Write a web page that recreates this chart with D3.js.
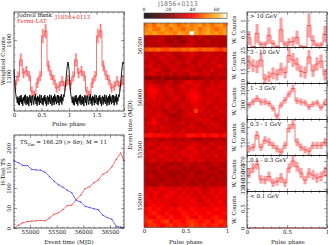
<!DOCTYPE html>
<html>
<head>
<meta charset="utf-8">
<script src="https://cdn.jsdelivr.net/npm/d3@7"></script>
<style>
html, body { margin: 0; padding: 0; background: #fff; }
svg { display: block; }
text { font-family: "DejaVu Serif", serif; font-size: 5.6px; fill: #111; }
</style>
</head>
<body>
<svg width="328" height="245"></svg>
<script>
// fermi profile, one cycle, 20 bins (plotted twice)
var fermiCounts = [1276,1299,1345,1308,1314,1300,1258,1247,1281,1300,1411,1425,1328,1303,1289,1267,1272,1286,1272,1289]
var fermiErrs = [14,14,18,14,14,14,13,13,14,14,20,20,15,14,14,13,13,14,13,14]

// jodrell bank profile, one cycle, 100 bins (plotted twice)
var radioProfile = [80,55,35,18,8,3,-8,9,-12,6,-14,11,-5,13,-10,4,-15,8,-3,12,-9,14,-13,2,10,-11,7,-16,5,13,
    -7,10,-14,3,12,-6,-12,9,-2,15,-10,6,-15,11,-4,8,-13,14,-8,1,12,-11,5,-14,9,-3,13,-9,7,-16,
    4,11,-12,8,-5,14,-10,2,12,-15,6,-7,10,-13,15,-4,9,-11,3,13,-8,12,-14,5,10,-6,15,-12,7,-3,
    14,8,18,30,45,62,78,92,100,95]

var mjdBins = [54700,54783,54866,54950,55033,55116,55200,55283,55366,55450,55533,55616,55700,55783,55866,55950,56033,56116,56200,56283,56366,56450,56533,56616,56700,56762]
var tsBlue = [167,163,156,156,146,145,144,139,128,117,108,102,94,88,69,65,54,51,48,45,32,26,22,4,2,1]
var tsRed = [0,7,13,16,17,18,19,18,25,34,38,46,56,57,71,82,98,103,113,120,134,140,152,171,187,167]

// heat map, 20 phase bins, newest row first
var heatRows = [
    [50,54,49,56,55,50,57,53,49,52,56,51,54,57,51,55,50,54,57,50],
    [52,56,51,50,57,53,50,55,52,49,54,52,56,50,54,57,52,49,53,55],
    [55,53,57,54,52,56,54,51,57,55,53,68,56,52,55,58,53,56,52,57],
    [30,27,31,29,33,28,30,26,24,29,31,30,28,32,30,27,31,29,28,30],
    [28,31,29,33,30,28,26,30,27,25,29,33,31,28,30,32,27,30,29,28],
    [31,29,30,28,32,31,29,27,30,28,34,32,29,31,28,30,29,31,27,29],
    [47,49,48,50,47,46,49,48,47,50,48,51,49,47,50,48,49,46,44,48],
    [33,31,34,32,30,35,33,29,31,34,32,36,33,30,31,34,32,30,33,31],
    [35,32,30,33,36,31,34,32,28,31,33,35,30,32,34,33,30,35,31,33],
    [31,34,33,29,32,35,30,33,34,30,36,31,29,34,33,31,35,32,30,34],
    [34,36,31,33,30,32,35,31,33,29,32,34,31,35,30,33,31,34,36,32],
    [30,33,36,34,31,28,32,35,30,33,35,33,32,29,34,31,36,30,33,31],
    [33,35,34,31,33,30,34,29,32,31,30,35,34,31,33,35,29,32,34,33],
    [26,24,27,25,28,24,26,25,27,26,24,28,25,27,29,30,28,31,29,30],
    [32,34,30,29,28,31,33,27,30,32,38,36,34,35,32,30,34,31,33,35],
    [34,37,36,33,31,35,32,30,34,36,33,35,37,34,31,33,35,32,36,34],
    [35,39,40,36,33,34,36,31,33,35,34,38,37,34,33,36,34,35,32,34],
    [33,38,39,35,34,32,35,34,32,33,37,40,39,36,32,34,33,36,35,33],
    [36,34,37,33,35,31,33,36,35,30,36,38,40,37,34,33,35,32,34,36],
    [32,35,33,36,32,34,35,32,31,34,33,36,38,35,32,36,34,33,35,32],
    [34,31,35,33,30,36,31,29,33,35,32,34,37,34,36,31,33,35,32,34],
    [33,35,32,34,31,29,33,32,28,31,35,33,45,36,33,34,31,33,36,33],
    [35,32,34,36,33,31,30,27,30,33,34,36,35,32,34,31,35,33,32,34],
    [31,34,37,33,32,35,29,31,28,32,33,31,34,36,33,35,32,30,34,33],
    [33,36,39,35,31,33,32,30,33,35,31,34,32,30,35,33,36,34,32,31],
    [34,32,35,33,36,34,31,33,30,32,34,35,33,32,30,34,32,35,33,31],
    [32,35,33,31,34,32,35,31,33,36,32,33,31,35,33,32,34,31,33,34],
    [41,42,40,41,39,40,36,35,37,35,41,42,41,40,42,39,41,42,37,41],
    [29,31,33,30,28,32,30,29,31,28,32,30,28,27,31,29,28,32,30,29],
    [33,35,34,31,36,32,34,30,33,35,31,34,36,33,30,32,35,31,33,32],
    [35,31,33,36,34,37,33,35,32,31,36,38,34,32,36,33,31,34,36,33],
    [32,36,35,33,31,34,36,32,34,37,33,35,37,33,34,31,35,33,32,36],
    [34,33,31,35,37,33,32,35,33,34,35,37,36,34,32,35,33,36,31,34],
    [31,34,36,32,33,35,34,31,36,32,33,36,34,35,33,31,34,32,35,33],
    [29,31,28,30,32,29,27,30,28,31,33,30,29,32,30,28,31,33,30,29],
    [31,28,30,33,27,29,32,30,31,28,30,27,31,29,33,30,28,29,32,30],
    [28,30,27,29,31,28,26,29,27,30,28,31,29,27,29,31,28,30,27,31],
    [30,32,31,27,29,30,28,27,30,28,29,33,28,30,31,27,30,29,31,28],
    [28,29,30,28,26,31,29,28,30,29,31,28,30,28,27,30,31,28,29,30],
    [31,29,27,30,32,28,30,29,28,31,30,29,27,31,29,31,28,30,32,29],
    [35,37,34,36,38,35,36,33,37,34,36,33,37,35,31,33,36,34,36,37],
    [36,34,38,37,35,36,39,37,35,38,34,37,33,36,32,35,37,34,38,36],
    [38,35,37,34,36,39,37,34,38,36,38,35,36,34,37,33,36,38,35,37],
    [37,39,36,38,35,37,34,38,36,39,35,40,37,33,36,38,35,37,39,36],
    [35,38,40,36,39,37,36,33,38,37,39,36,38,37,34,36,39,36,38,37],
    [40,42,39,41,38,36,40,38,41,39,37,41,39,38,40,37,39,41,38,39],
    [38,41,43,40,37,41,39,36,39,42,40,38,41,39,37,41,40,37,39,41],
    [42,40,38,43,41,39,42,40,38,41,43,39,37,42,40,38,41,43,40,38],
    [43,46,42,41,44,46,40,43,42,40,44,45,43,41,42,44,40,43,45,42],
    [41,44,45,42,40,43,45,41,44,42,43,47,44,42,45,41,43,44,41,43]
]
var heatStops = [0,20,40,52,62,68]
var heatColors = ["#000000","#700000","#ff0000","#ff8000","#ffc040","#ffffff"]

// energy band profiles, 20 bins
var band1 = [.35,.03,.52,.12,.12,.44,.15,.04,.65,.12,.19,.22,.37,.05,.03,.81,.25,.09,.10,.50]
var band1Err = [.25,.03,.35,.1,.1,.3,.12,.04,.45,.12,.15,.18,.25,.05,.03,.45,.2,.09,.1,.3]
var band2 = [19.2,17.6,17.1,20.3,11.3,12.4,14,13.3,16,14.4,22.4,20.3,18.4,14.9,14.4,21.6,15.2,18.4,19.7,13.3]
var band2Err = [3.2,3,3,3.4,2.4,2.5,2.8,2.7,3,2.8,3.5,3.3,3.1,2.8,2.8,3.4,2.9,3.1,3.2,2.7]
var band3 = [296,308,320,308,308,302,285,257,296,314,336,356,312,308,305,290,300,305,288,305]
var band3Err = [11,12,12,12,12,11,11,10,11,12,12,13,12,12,11,11,11,11,11,12]
var band4 = [729,734,773,734,757,751,740,729,718,740,796,809,751,734,726,721,740,740,740,751]
var band4Err = [12,12,14,12,13,13,12,12,12,12,14,15,13,12,12,12,12,12,12,13]
var band5 = [353,360,365,344,343,348,339,341,346,339,360,370,362,353,343,353,350,346,348,355]
var band5Err = [7,7,7,6,6,7,6,6,7,6,7,8,7,7,6,7,7,7,7,7]
var band6 = [0,0,0,0,0,0,0,0,0,0,0,0,0,0,0,0,0,0,0,0]
var band6Err = [0,0,0,0,0,0,0,0,0,0,0,0,0,0,0,0,0,0,0,0]

var bandNames = ["> 10 GeV","3 - 10 GeV","1 - 3 GeV","0.3 - 1 GeV","0.1 - 0.3 GeV","< 0.1 GeV"]
var bandValues = [band1,band2,band3,band4,band5,band6]
var bandErrs = [band1Err,band2Err,band3Err,band4Err,band5Err,band6Err]
var bandDomains = [[0,1.31],[9.2,26.2],[245,374],[707,825],[326.7,378],[0,.92]]
var bandTicks = [[0.5,1],[10,15,20,25],[300,350],[750,800],[330,340,350,360,370],[0,0.5]]
var bandMinor = [[.1,.2,.3,.4,.6,.7,.8,.9,1.1,1.2],[12,14,16,18,22,24],[260,280,320,340,360],[720,740,760,780,820],[],[.1,.2,.3,.4,.6,.7,.8,.9]]

var svg = d3.select("svg")

var RED = "#f23c3c"

var numFmt = function(d) { return String(d) }

// frame with pgplot style ticks pointing inwards on all four sides
var drawFrame = function(g, xScale, yScale, o)
{
    var w = xScale.range()[1] - xScale.range()[0]
    var yTop = yScale.range()[1]
    var yBottom = yScale.range()[0]
    var x0 = xScale.range()[0]
    var major = o.major || 3
    var minor = o.minor || 1.5

    var sides = [
        {axis: d3.axisBottom, scale: xScale, pos: "translate(0,"+yBottom+")", ticks: o.xTicks, sub: o.xMinor, label: o.xLabels},
        {axis: d3.axisTop, scale: xScale, pos: "translate(0,"+yTop+")", ticks: o.xTicks, sub: o.xMinor, label: false},
        {axis: d3.axisLeft, scale: yScale, pos: "translate("+x0+",0)", ticks: o.yTicks, sub: o.yMinor, label: o.yLabels},
        {axis: d3.axisRight, scale: yScale, pos: "translate("+(x0+w)+",0)", ticks: o.yTicks, sub: o.yMinor, label: false}
    ]

    sides.forEach(function(side)
    {
        var a = g.append("g").attr("transform", side.pos)
        .call(side.axis(side.scale).tickValues(side.ticks).tickSize(-major).tickPadding(o.xPad || 2)
            .tickFormat(side.label ? numFmt : ""))
        a.select(".domain").remove()
        a.selectAll("line").attr("stroke", "#333").attr("stroke-width", .5)
        a.selectAll("text").style("font-size", "5.6px").attr("fill", "#111")

        if (side.axis == d3.axisLeft && side.label)
        {
            a.selectAll("text")
            .attr("transform", "rotate(-90)")
            .attr("text-anchor", "middle")
            .attr("x", 0)
            .attr("y", -(o.yPad || 3))
            .attr("dy", 0)
        }

        if (side.sub && side.sub.length)
        {
            var m = g.append("g").attr("transform", side.pos)
            .call(side.axis(side.scale).tickValues(side.sub).tickSize(-minor).tickFormat(""))
            m.select(".domain").remove()
            m.selectAll("line").attr("stroke", "#333").attr("stroke-width", .4)
        }
    })

    g.append("rect")
    .attr("x", x0)
    .attr("y", yTop)
    .attr("width", w)
    .attr("height", yBottom - yTop)
    .attr("fill", "none")
    .attr("stroke", o.frameColor || "#111")
    .attr("stroke-width", .7)
}

// shaded boxes + error bars + step line
var drawProfile = function(g, xScale, yScale, values, errs, binWidth)
{
    var bins = values.map(function(v, i)
    {
        return {phase: i*binWidth, v: v, e: errs[i]}
    })

    g.selectAll(".box")
    .data(bins)
    .enter()
    .append("rect")
    .attr("class", "box")
    .attr("x", function(b) { return xScale(b.phase) })
    .attr("width", function(b) { return xScale(b.phase+binWidth) - xScale(b.phase) })
    .attr("y", function(b) { return yScale(b.v+b.e) })
    .attr("height", function(b) { return yScale(b.v-b.e) - yScale(b.v+b.e) })
    .attr("fill", "#ffb4b4")
    .attr("fill-opacity", .7)

    g.selectAll(".err")
    .data(bins)
    .enter()
    .append("line")
    .attr("class", "err")
    .attr("x1", function(b) { return xScale(b.phase+binWidth/2) })
    .attr("x2", function(b) { return xScale(b.phase+binWidth/2) })
    .attr("y1", function(b) { return yScale(b.v+b.e) })
    .attr("y2", function(b) { return yScale(b.v-b.e) })
    .attr("stroke", RED)
    .attr("stroke-width", .6)

    var step = d3.line()
    .x(function(b) { return xScale(b.phase+binWidth/2) })
    .y(function(b) { return yScale(b.v) })
    .curve(d3.curveStep)

    g.append("path")
    .datum(bins)
    .attr("d", step)
    .attr("fill", "none")
    .attr("stroke", RED)
    .attr("stroke-width", .7)
}

var rotLabel = function(txt, x, y)
{
    svg.append("text")
    .attr("transform", "translate("+x+","+y+") rotate(-90)")
    .attr("text-anchor", "middle")
    .text(txt)
}

var label = function(txt, x, y, anchor, fill)
{
    return svg.append("text")
    .attr("x", x)
    .attr("y", y)
    .attr("text-anchor", anchor || "start")
    .style("fill", fill || "#111")
    .text(txt)
}

// ---- top left, folded profile
var topX = d3.scaleLinear().domain([0,2]).range([14,124])
var topY = d3.scaleLinear().domain([1203,1478]).range([111,12])
var radioY = d3.scaleLinear().domain([0,100]).range([100,62])

var topG = svg.append("g").attr("id", "profile")
drawProfile(topG, topX, topY, fermiCounts.concat(fermiCounts), fermiErrs.concat(fermiErrs), .05)

var radioLine = d3.line()
.x(function(d, i) { return topX(i*.01) })
.y(function(d) { return radioY(d) })

topG.append("path")
.datum(radioProfile.concat(radioProfile))
.attr("d", radioLine)
.attr("fill", "none")
.attr("stroke", "#000")
.attr("stroke-width", .9)

drawFrame(topG, topX, topY, {
    xTicks: [0,.5,1,1.5,2],
    xMinor: d3.range(.1,2,.1).filter(function(v, i) { return (i+1)%5 != 0 }),
    xLabels: true, xPad: 2.5,
    yTicks: [1300,1400],
    yMinor: [1220,1240,1260,1280,1320,1340,1360,1380,1420,1440,1460],
    yLabels: true, yPad: 3
})

label("Jodrell Bank", 17, 17)
label("Fermi-LAT", 17, 22.5, "start", "#f02020")
label("J1856+0113", 55, 19, "start", "#f02020")
label("Pulse phase", 69, 126, "middle")
rotLabel("Weighted Counts", 5, 61)

// ---- bottom left, H-test
var tsX = d3.scaleLinear().domain([54700,56762]).range([14,124])
var tsY = d3.scaleLinear().domain([0,232]).range([228,135])

var tsG = svg.append("g").attr("id", "htest")

var tsSeries = [{vals: tsBlue, color: "#4a4af5"}, {vals: tsRed, color: "#f54a4a"}]
tsSeries.forEach(function(s)
{
    var pts = s.vals.map(function(v, i) { return [mjdBins[i], v] })
    tsG.append("path")
    .datum(pts)
    .attr("d", d3.line().x(function(p) { return tsX(p[0]) }).y(function(p) { return tsY(p[1]) }))
    .attr("fill", "none")
    .attr("stroke", s.color)
    .attr("stroke-width", .8)

    tsG.selectAll(null)
    .data(pts)
    .enter()
    .append("circle")
    .attr("cx", function(p) { return tsX(p[0]) })
    .attr("cy", function(p) { return tsY(p[1]) })
    .attr("r", .7)
    .attr("fill", s.color)
})

drawFrame(tsG, tsX, tsY, {
    xTicks: [55000,55500,56000,56500],
    xMinor: [54800,54900,55100,55200,55300,55400,55600,55700,55800,55900,56100,56200,56300,56400,56600,56700],
    xLabels: true, xPad: 2,
    yTicks: [0,50,100,150,200],
    yMinor: [10,20,30,40,60,70,80,90,110,120,130,140,160,170,180,190,210,220,230],
    yLabels: true, yPad: 3
})

var tsText = label("", 20, 144)
tsText.append("tspan").text("TS")
tsText.append("tspan").attr("dy", 1.5).style("font-size", "3.8px").text("Hm")
tsText.append("tspan").attr("dy", -1.5).text(" = 166.29 (> 8σ); M = 11")
label("Event time (MJD)", 69, 244, "middle")
rotLabel("H-Test TS", 5, 172)

// ---- middle, phase / time map
var heatColor = d3.scaleLinear().domain(heatStops).range(heatColors)
var phaseBand = d3.scaleBand().domain(d3.range(20)).range([144,227])
var rowBand = d3.scaleBand().domain(d3.range(heatRows.length)).range([23,227.5])
var heatX = d3.scaleLinear().domain([0,1]).range([144,227])
var heatY = d3.scaleLinear().domain([54750,56712]).range([227.5,23])

var heatG = svg.append("g").attr("id", "heatmap")
heatRows.forEach(function(row, r)
{
    heatG.selectAll(null)
    .data(row)
    .enter()
    .append("rect")
    .attr("x", function(v, c) { return phaseBand(c) })
    .attr("y", rowBand(r))
    .attr("width", c => phaseBand.bandwidth()+(1))
    .attr("height", rowBand.bandwidth()+(r < heatRows.length-1 ? 1 : 0))
    .attr("fill", function(v) { return heatColor(v) })
})

// clip the overlap hanging out on the right
heatG.append("rect")
.attr("x", 227).attr("y", 22).attr("width", 2).attr("height", 207)
.attr("fill", "#fff")

drawFrame(heatG, heatX, heatY, {
    xTicks: [0,.5,1],
    xMinor: [.1,.2,.3,.4,.6,.7,.8,.9],
    xLabels: true, xPad: 2,
    yTicks: [55000,55500,56000,56500],
    yMinor: [],
    yLabels: true, yPad: 2.5,
    major: 2, frameColor: "#555"
})

// colour bar
var barX = d3.scaleLinear().domain([0,68.6]).range([144,227])
var barSteps = d3.range(0,68.6,.5)
var barG = svg.append("g").attr("id", "colorbar")
barG.selectAll("rect")
.data(barSteps)
.enter()
.append("rect")
.attr("x", function(v) { return barX(v) })
.attr("y", 13)
.attr("width", barX(.5)-barX(0)+.2)
.attr("height", 5.3)
.attr("fill", function(v) { return heatColor(v) })

barG.append("rect")
.attr("x", 144).attr("y", 13).attr("width", 83).attr("height", 5.3)
.attr("fill", "none").attr("stroke", "#444").attr("stroke-width", .6)

var barTicks = [0,20,40,60]
barG.selectAll("text")
.data(barTicks)
.enter()
.append("text")
.attr("x", function(v) { return barX(v) })
.attr("y", 11)
.attr("text-anchor", "middle")
.style("font-size", "4.5px")
.text(function(v) { return v })

svg.append("text")
.attr("x", 178)
.attr("y", 5.5)
.attr("text-anchor", "middle")
.style("font-family", "'DejaVu Sans', sans-serif")
.style("font-size", "6.4px")
.style("fill", "#777")
.text("J1856+0113")

label("Pulse phase", 186, 244, "middle")
rotLabel("Event time (MJD)", 132, 125)

// ---- right column, energy bands
var bandX = d3.scaleLinear().domain([0,1]).range([247,327])
var bandEdges = [12,47.5,83.5,119.5,155.5,191.5,228]

bandNames.forEach(function(name, i)
{
    var y = d3.scaleLinear().domain(bandDomains[i]).range([bandEdges[i+1],bandEdges[i]])
    var g = svg.append("g").attr("id", "band"+i)
    drawProfile(g, bandX, y, bandValues[i], bandErrs[i], .05)
    drawFrame(g, bandX, y, {
        xTicks: [0,.5,1],
        xMinor: [.1,.2,.3,.4,.6,.7,.8,.9],
        xLabels: i == 5, xPad: 2,
        yTicks: bandTicks[i],
        yMinor: bandMinor[i],
        yLabels: true, yPad: 2.5
    })
    label(name, 250, bandEdges[i]+6)
    rotLabel("W. Counts", 236, (bandEdges[i]+bandEdges[i+1])/2)
})

label("Pulse phase", 288, 244, "middle")
</script>
</body>
</html>
